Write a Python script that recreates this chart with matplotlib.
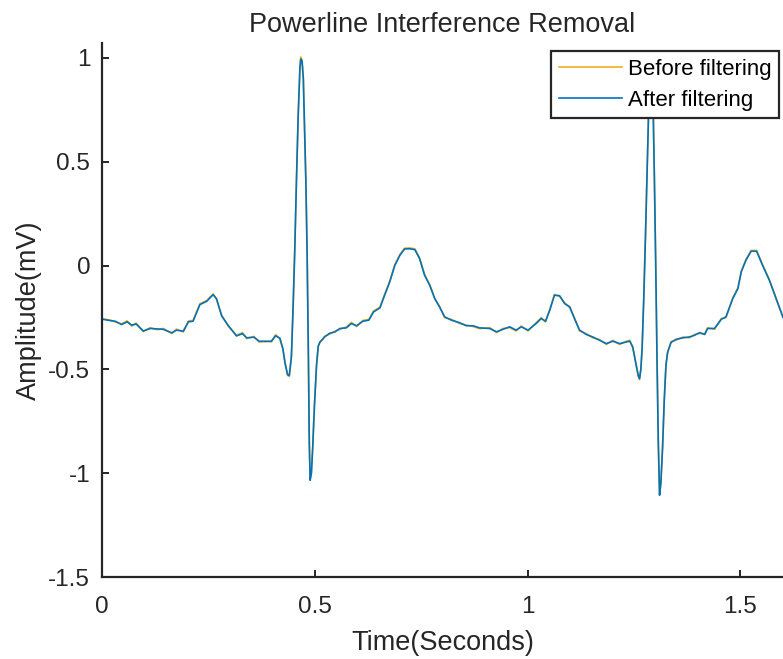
import matplotlib
matplotlib.use("Agg")
import matplotlib.pyplot as plt

# ---- data ----
time_s = [
    0.000, 0.019, 0.031, 0.046, 0.059, 0.070, 0.080, 0.097, 0.113, 0.130,
    0.144, 0.164, 0.175, 0.191, 0.203, 0.214, 0.230, 0.246, 0.261, 0.269,
    0.281, 0.296, 0.316, 0.330, 0.340, 0.357, 0.369, 0.384, 0.398, 0.408,
    0.418, 0.425, 0.430, 0.436, 0.440, 0.445, 0.449, 0.453, 0.457, 0.461,
    0.465, 0.467, 0.470, 0.473, 0.476, 0.479, 0.482, 0.485, 0.487, 0.489,
    0.492, 0.495, 0.499, 0.504, 0.508, 0.512, 0.520, 0.523, 0.535, 0.547,
    0.559, 0.574, 0.586, 0.598, 0.613, 0.627, 0.638, 0.653, 0.664, 0.676,
    0.688, 0.700, 0.711, 0.723, 0.735, 0.746, 0.758, 0.770, 0.782, 0.793,
    0.805, 0.821, 0.840, 0.856, 0.872, 0.887, 0.911, 0.927, 0.942, 0.958,
    0.973, 0.985, 1.001, 1.020, 1.032, 1.042, 1.052, 1.063, 1.075, 1.087,
    1.099, 1.110, 1.122, 1.138, 1.153, 1.169, 1.185, 1.200, 1.216, 1.232,
    1.240, 1.247, 1.255, 1.260, 1.263, 1.266, 1.269, 1.273, 1.277, 1.281,
    1.285, 1.289, 1.292, 1.295, 1.298, 1.301, 1.304, 1.307, 1.310, 1.313,
    1.317, 1.321, 1.325, 1.329, 1.337, 1.349, 1.365, 1.380, 1.392, 1.404,
    1.416, 1.423, 1.439, 1.455, 1.466, 1.482, 1.494, 1.502, 1.513, 1.525,
    1.538, 1.552, 1.568, 1.584, 1.600,
]

after_mv = [
    -0.258, -0.265, -0.268, -0.284, -0.271, -0.287, -0.281, -0.315, -0.303, -0.305,
    -0.307, -0.324, -0.311, -0.316, -0.271, -0.268, -0.188, -0.172, -0.140, -0.159,
    -0.242, -0.287, -0.339, -0.328, -0.348, -0.345, -0.364, -0.366, -0.364, -0.338,
    -0.350, -0.400, -0.470, -0.525, -0.530, -0.440, -0.200, 0.082, 0.420, 0.724,
    0.950, 0.995, 0.985, 0.900, 0.650, 0.403, 0.050, -0.450, -0.850, -1.034,
    -1.000, -0.881, -0.680, -0.480, -0.390, -0.368, -0.352, -0.344, -0.326, -0.320,
    -0.303, -0.300, -0.279, -0.290, -0.268, -0.263, -0.223, -0.204, -0.143, -0.079,
    0.001, 0.050, 0.080, 0.081, 0.077, 0.034, -0.047, -0.095, -0.159, -0.199,
    -0.247, -0.263, -0.275, -0.290, -0.290, -0.300, -0.303, -0.319, -0.307, -0.295,
    -0.311, -0.295, -0.311, -0.279, -0.255, -0.268, -0.215, -0.143, -0.145, -0.183,
    -0.199, -0.255, -0.311, -0.332, -0.344, -0.360, -0.376, -0.364, -0.376, -0.368,
    -0.364, -0.392, -0.480, -0.530, -0.545, -0.500, -0.400, -0.150, 0.150, 0.480,
    0.800, 0.960, 0.940, 0.750, 0.400, 0.000, -0.450, -0.850, -1.106, -1.050,
    -0.880, -0.650, -0.480, -0.416, -0.370, -0.355, -0.348, -0.344, -0.336, -0.323,
    -0.332, -0.303, -0.303, -0.259, -0.247, -0.159, -0.111, -0.030, 0.026, 0.069,
    0.069, 0.001, -0.071, -0.159, -0.250,
]

before_mv = [
    -0.256, -0.262, -0.272, -0.281, -0.266, -0.292, -0.277, -0.318, -0.299, -0.309,
    -0.303, -0.328, -0.306, -0.320, -0.267, -0.264, -0.184, -0.168, -0.137, -0.163,
    -0.238, -0.291, -0.335, -0.323, -0.352, -0.341, -0.369, -0.362, -0.368, -0.333,
    -0.354, -0.404, -0.466, -0.529, -0.534, -0.436, -0.196, 0.086, 0.424, 0.728,
    0.955, 1.005, 0.990, 0.904, 0.654, 0.407, 0.054, -0.446, -0.846, -1.030,
    -0.996, -0.877, -0.676, -0.484, -0.386, -0.372, -0.348, -0.340, -0.330, -0.316,
    -0.307, -0.296, -0.274, -0.294, -0.264, -0.259, -0.219, -0.200, -0.139, -0.075,
    0.005, 0.054, 0.084, 0.085, 0.081, 0.038, -0.043, -0.091, -0.163, -0.195,
    -0.251, -0.259, -0.279, -0.286, -0.294, -0.304, -0.299, -0.323, -0.303, -0.299,
    -0.315, -0.291, -0.315, -0.275, -0.251, -0.272, -0.211, -0.139, -0.149, -0.179,
    -0.203, -0.251, -0.315, -0.328, -0.348, -0.356, -0.380, -0.360, -0.380, -0.364,
    -0.360, -0.396, -0.476, -0.534, -0.549, -0.496, -0.396, -0.146, 0.154, 0.484,
    0.804, 0.966, 0.944, 0.754, 0.404, 0.004, -0.446, -0.846, -1.102, -1.046,
    -0.876, -0.646, -0.476, -0.420, -0.366, -0.359, -0.344, -0.348, -0.332, -0.327,
    -0.328, -0.299, -0.307, -0.255, -0.251, -0.155, -0.107, -0.026, 0.030, 0.073,
    0.073, 0.005, -0.067, -0.163, -0.246,
]

x_ticks = [0, 0.5, 1, 1.5]
x_tick_labels = ["0", "0.5", "1", "1.5"]
y_ticks = [-1.5, -1, -0.5, 0, 0.5, 1]
y_tick_labels = ["-1.5", "-1", "-0.5", "0", "0.5", "1"]
series_labels = ["Before filtering", "After filtering"]

# ---- style ----
plt.rcParams["font.family"] = ["Liberation Sans", "DejaVu Sans"]
TXT = "#262626"
W, H = 783, 659
fig = plt.figure(figsize=(W / 100, H / 100), dpi=100)
ax = fig.add_axes([102 / W, (H - 577) / H, (W - 102) / W, (577 - 43) / H])

ax.plot(time_s, before_mv, color="#EDB120", lw=1.2, label=series_labels[0])
ax.plot(time_s, after_mv, color="#0072BD", lw=1.2, label=series_labels[1])

ax.set_xlim(0, 1.6)
ax.set_ylim(-1.5, 1.072)
ax.set_xticks(x_ticks)
ax.set_xticklabels(x_tick_labels)
ax.set_yticks(y_ticks)
ax.set_yticklabels(y_tick_labels)

for side in ["top", "right"]:
    ax.spines[side].set_visible(False)
for side in ["left", "bottom"]:
    ax.spines[side].set_color(TXT)
    ax.spines[side].set_linewidth(1.6)

ax.tick_params(axis="both", direction="in", length=5, width=1.4, colors=TXT,
               labelsize=17.5, top=False, right=False)
ax.tick_params(axis="x", pad=13.5)
ax.tick_params(axis="y", pad=8.5)

ax.set_title("Powerline Interference Removal", fontsize=19.5, color=TXT, pad=8)
ax.set_xlabel("Time(Seconds)", fontsize=19.5, color=TXT, labelpad=9)
ax.set_ylabel("Amplitude(mV)", fontsize=19.5, color=TXT, labelpad=4.5)

leg = ax.legend(loc="upper right", bbox_to_anchor=(779 / W, 1 - 51 / H),
                bbox_transform=fig.transFigure, fontsize=16, frameon=True,
                fancybox=False, framealpha=1, borderpad=0.35, handlelength=2.85,
                handletextpad=0.25, labelspacing=0.44, borderaxespad=0)
leg.get_frame().set_edgecolor(TXT)
leg.get_frame().set_linewidth(1.6)
for t in leg.get_texts():
    t.set_color("#000000")

fig.savefig("out.png", dpi=100)
